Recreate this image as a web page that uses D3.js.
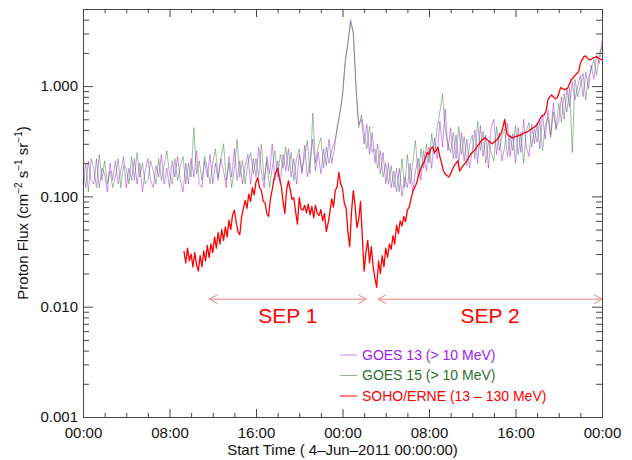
<!DOCTYPE html>
<html>
<head>
<meta charset="utf-8">
<script src="https://cdn.jsdelivr.net/npm/d3@7"></script>
<style>
  body { margin: 0; background: #fff; }
  text { font-family: "Liberation Sans", Arial, Helvetica, sans-serif; }
</style>
</head>
<body>
<div id="chart"></div>
<script>
// ---- data (hours since 4-Jun-2011 00:00, flux in cm-2 s-1 sr-1) ----
var goesStartHour = 0;
var goesStepHours = 0.25;

// GOES 13 (> 10 MeV), one row per hour, 15 min samples
var goes13Flux = [
  0.18, 0.12, 0.21, 0.14,
  0.13, 0.22, 0.12, 0.18,
  0.16, 0.11, 0.2, 0.14,
  0.21, 0.13, 0.17, 0.23,
  0.12, 0.18, 0.14, 0.22,
  0.13, 0.2, 0.11, 0.17,
  0.22, 0.14, 0.12, 0.19,
  0.15, 0.24, 0.13, 0.18,
  0.12, 0.21, 0.15, 0.23,
  0.14, 0.11, 0.2, 0.13,
  0.22, 0.15, 0.26, 0.13,
  0.12, 0.21, 0.15, 0.24,
  0.13, 0.2, 0.14, 0.22,
  0.17, 0.12, 0.23, 0.15,
  0.27, 0.14, 0.21, 0.13,
  0.19, 0.24, 0.13, 0.22,
  0.15, 0.28, 0.17, 0.12,
  0.23, 0.16, 0.3, 0.14,
  0.21, 0.13, 0.24, 0.17,
  0.27, 0.15, 0.22, 0.13,
  0.24, 0.16, 0.29, 0.15,
  0.21, 0.33, 0.17, 0.25,
  0.16, 0.27, 0.19, 0.33,
  0.2, 0.27, 0.42, 0.55,
  0.85, 1.7, 2.5, 4.0,
  3.1, 0.95, 0.45, 0.5,
  0.3, 0.45, 0.24, 0.38,
  0.2, 0.3, 0.16, 0.25,
  0.13, 0.2, 0.12, 0.17,
  0.11, 0.18, 0.1, 0.15,
  0.12, 0.2, 0.11, 0.17,
  0.22, 0.14, 0.26, 0.17,
  0.28, 0.18, 0.34, 0.22,
  0.48, 0.28, 0.62, 0.26,
  0.42, 0.22, 0.36, 0.2,
  0.38, 0.21, 0.33, 0.18,
  0.26, 0.4, 0.2, 0.44,
  0.23, 0.36, 0.18, 0.42,
  0.5, 0.24, 0.38, 0.21,
  0.28, 0.46, 0.23, 0.37,
  0.2, 0.42, 0.25, 0.5,
  0.28, 0.23, 0.45, 0.3,
  0.46, 0.27, 0.55, 0.33,
  0.6, 0.36, 0.7, 0.42,
  0.48, 0.8, 0.5, 0.95,
  0.65, 1.1, 0.75, 1.0,
  1.25, 0.8, 1.35, 0.95,
  1.55, 1.15, 1.9, 1.6,
  2.6
];

// GOES 15 (> 10 MeV)
var goes15Flux = [
  0.13, 0.2, 0.11, 0.22,
  0.18, 0.12, 0.24, 0.14,
  0.21, 0.13, 0.17, 0.12,
  0.15, 0.22, 0.12, 0.19,
  0.18, 0.13, 0.23, 0.14,
  0.25, 0.15, 0.2, 0.13,
  0.14, 0.21, 0.17, 0.13,
  0.22, 0.14, 0.19, 0.26,
  0.16, 0.13, 0.22, 0.14,
  0.19, 0.23, 0.13, 0.2,
  0.15, 0.42, 0.16, 0.21,
  0.14, 0.23, 0.18, 0.13,
  0.2, 0.27, 0.15, 0.22,
  0.3, 0.14, 0.2, 0.12,
  0.18, 0.33, 0.15, 0.21,
  0.13, 0.2, 0.25, 0.16,
  0.22, 0.15, 0.3, 0.14,
  0.21, 0.12, 0.18, 0.26,
  0.15, 0.24, 0.18, 0.28,
  0.17, 0.25, 0.14, 0.22,
  0.27, 0.17, 0.23, 0.32,
  0.16, 0.57, 0.2, 0.28,
  0.34, 0.18, 0.28, 0.2,
  0.26, 0.31, 0.4, 0.58,
  0.8, 1.6, 2.4, 3.8,
  3.0, 1.0, 0.42, 0.55,
  0.38, 0.27, 0.43, 0.25,
  0.27, 0.18, 0.26, 0.15,
  0.2, 0.13, 0.19, 0.12,
  0.18, 0.11, 0.22, 0.12,
  0.24, 0.13, 0.2, 0.32,
  0.15, 0.27, 0.18, 0.3,
  0.2, 0.37, 0.24, 0.42,
  0.58, 0.85, 0.4, 0.3,
  0.25, 0.38, 0.22, 0.43,
  0.24, 0.35, 0.19, 0.29,
  0.36, 0.22, 0.48, 0.26,
  0.39, 0.2, 0.32, 0.25,
  0.21, 0.43, 0.26, 0.35,
  0.41, 0.23, 0.36, 0.26,
  0.44, 0.24, 0.38, 0.2,
  0.39, 0.47, 0.28, 0.41,
  0.31, 0.48, 0.26, 0.43,
  0.52, 0.34, 0.58, 0.4,
  0.7, 0.47, 0.85, 0.58,
  0.95, 0.25, 1.15, 0.8,
  1.0, 1.3, 0.75, 1.2,
  1.4, 1.75, 1.25, 1.95,
  2.3
];

// SOHO/ERNE (13 - 130 MeV), 10 min samples from 09:20
var erneStartHour = 9 + 20 / 60;
var erneStepHours = 1 / 6;
var erneFlux = [
  0.032, 0.025, 0.034, 0.026,
  0.03, 0.023, 0.031, 0.024, 0.021, 0.029,
  0.023, 0.032, 0.026, 0.036, 0.028, 0.037,
  0.031, 0.043, 0.034, 0.047, 0.037, 0.05,
  0.04, 0.053, 0.043, 0.061, 0.05, 0.068,
  0.075, 0.058, 0.048, 0.045, 0.065, 0.078,
  0.092, 0.078, 0.105, 0.09, 0.12, 0.103,
  0.135, 0.148, 0.12, 0.113, 0.09, 0.088,
  0.07, 0.066, 0.095, 0.115, 0.145, 0.165,
  0.18, 0.145, 0.125, 0.09, 0.07, 0.115,
  0.138, 0.115, 0.094, 0.097, 0.072, 0.056,
  0.098, 0.077, 0.075, 0.083, 0.071, 0.085,
  0.068, 0.081, 0.064, 0.083, 0.07, 0.067,
  0.076, 0.06, 0.07, 0.048, 0.057, 0.072,
  0.095, 0.08, 0.113, 0.122, 0.165, 0.13,
  0.118, 0.087, 0.078, 0.048, 0.035, 0.072,
  0.113, 0.082, 0.052, 0.062, 0.09, 0.043,
  0.021, 0.031, 0.04, 0.025, 0.035, 0.023,
  0.018, 0.015, 0.026, 0.02, 0.029, 0.023,
  0.034, 0.028, 0.037, 0.033, 0.044, 0.037,
  0.055, 0.046, 0.06, 0.054, 0.066, 0.059,
  0.075, 0.08, 0.095, 0.11, 0.12, 0.13,
  0.15, 0.17, 0.19, 0.2, 0.22, 0.25,
  0.24, 0.27, 0.28, 0.25, 0.26, 0.28,
  0.23, 0.2, 0.17, 0.16, 0.155, 0.15,
  0.16, 0.175, 0.19, 0.2, 0.21, 0.17,
  0.18, 0.19, 0.2, 0.21, 0.225, 0.24,
  0.25, 0.26, 0.27, 0.29, 0.3, 0.32,
  0.33, 0.34, 0.33, 0.32, 0.31, 0.3,
  0.31, 0.32, 0.33, 0.35, 0.37, 0.42,
  0.5, 0.38, 0.36, 0.35, 0.34, 0.34,
  0.35, 0.35, 0.36, 0.36, 0.37, 0.38,
  0.38, 0.39, 0.4, 0.41, 0.42, 0.43,
  0.45, 0.48, 0.52, 0.54, 0.55, 0.6,
  0.75, 0.8, 0.83, 0.8, 0.77, 0.78,
  0.85, 0.97, 0.95, 0.93, 0.94, 0.96,
  1.05, 1.15, 1.19, 1.25, 1.3, 1.35,
  1.6, 1.73, 1.85, 1.88, 1.78, 1.73,
  1.75, 1.8, 1.82, 1.85, 1.8, 1.76,
  1.73
];

// tick labels
var xMajorTicks = [0, 8, 16, 24, 32, 40, 48];
var xTickLabels = ["00:00", "08:00", "16:00", "00:00", "08:00", "16:00", "00:00"];
var yMajorTicks = [0.001, 0.01, 0.1, 1];

// SEP event intervals (hours)
var sepNames = ["SEP 1", "SEP 2"];
var sepStart = [11.7, 27.3];
var sepEnd = [26.2, 48];

// legend
var seriesNames = ["GOES 13 (> 10 MeV)", "GOES 15 (> 10 MeV)", "SOHO/ERNE (13 \u2013 130 MeV)"];
var seriesColors = ["#a020f0", "#2f6f2f", "#ff0000"];

// ---- layout ----
var svgWidth = 632;
var svgHeight = 460;
var margin = { top: 9, right: 30, bottom: 43, left: 83 };
var chartWidth = svgWidth - margin.left - margin.right;
var chartHeight = svgHeight - margin.top - margin.bottom;
var axisColor = "#444";

var svg = d3.select("#chart")
  .append("svg")
  .attr("width", svgWidth)
  .attr("height", svgHeight);

var chartGroup = svg.append("g")
  .attr("transform", `translate(${margin.left}, ${margin.top})`);

var xScale = d3.scaleLinear().domain([0, 48]).range([0, chartWidth]);
var yScale = d3.scaleLog().domain([0.001, 5]).range([chartHeight, 0]);

// minor tick positions
var xMinorTicks = d3.range(0, 49, 2).filter(d => d % 8 !== 0);
var yMinorTicks = [];
[0.001, 0.01, 0.1, 1].forEach(function(dec) {
  for (var k = 2; k <= 9; k++) {
    if (dec * k <= 5) yMinorTicks.push(dec * k);
  }
});

function drawAxis(axis, transform) {
  var g = chartGroup.append("g")
    .attr("transform", transform)
    .call(axis);
  g.select(".domain").attr("stroke", axisColor);
  g.selectAll(".tick line").attr("stroke", axisColor);
  g.selectAll(".tick text")
    .attr("font-size", 15)
    .attr("fill", "#111")
    .attr("font-family", "Liberation Sans, Arial, sans-serif");
  return g;
}

// bottom
drawAxis(d3.axisBottom(xScale).tickValues(xMajorTicks).tickSize(-8).tickSizeOuter(0)
  .tickPadding(10).tickFormat((d, i) => xTickLabels[i]), `translate(0, ${chartHeight})`);
drawAxis(d3.axisBottom(xScale).tickValues(xMinorTicks).tickSize(-4).tickSizeOuter(0)
  .tickFormat(""), `translate(0, ${chartHeight})`);
// top
drawAxis(d3.axisTop(xScale).tickValues(xMajorTicks).tickSize(-8).tickSizeOuter(0)
  .tickFormat(""), "translate(0, 0)");
drawAxis(d3.axisTop(xScale).tickValues(xMinorTicks).tickSize(-4).tickSizeOuter(0)
  .tickFormat(""), "translate(0, 0)");
// left
drawAxis(d3.axisLeft(yScale).tickValues(yMajorTicks).tickSize(-10).tickSizeOuter(0)
  .tickPadding(5).tickFormat(d3.format(".3f")), "translate(0, 0)");
drawAxis(d3.axisLeft(yScale).tickValues(yMinorTicks).tickSize(-6).tickSizeOuter(0)
  .tickFormat(""), "translate(0, 0)");
// right
drawAxis(d3.axisRight(yScale).tickValues(yMajorTicks).tickSize(-10).tickSizeOuter(0)
  .tickFormat(""), `translate(${chartWidth}, 0)`);
drawAxis(d3.axisRight(yScale).tickValues(yMinorTicks).tickSize(-6).tickSizeOuter(0)
  .tickFormat(""), `translate(${chartWidth}, 0)`);

// ---- series ----
function toPoints(values, start, step) {
  return values.map((v, i) => ({ t: start + i * step, v: v }));
}

var line = d3.line()
  .x(d => xScale(d.t))
  .y(d => yScale(d.v));

var plotGroup = chartGroup.append("g");

plotGroup.append("path")
  .datum(toPoints(goes13Flux, goesStartHour, goesStepHours))
  .attr("fill", "none")
  .attr("stroke", seriesColors[0])
  .attr("stroke-opacity", 0.5)
  .attr("stroke-width", 1)
  .attr("d", line);

plotGroup.append("path")
  .datum(toPoints(goes15Flux, goesStartHour, goesStepHours))
  .attr("fill", "none")
  .attr("stroke", seriesColors[1])
  .attr("stroke-opacity", 0.45)
  .attr("stroke-width", 1)
  .attr("d", line);

plotGroup.append("path")
  .datum(toPoints(erneFlux, erneStartHour, erneStepHours))
  .attr("fill", "none")
  .attr("stroke", seriesColors[2])
  .attr("stroke-width", 1.3)
  .attr("stroke-linejoin", "round")
  .attr("d", line);

// ---- SEP arrows ----
var arrowY = yScale(0.0117);
var arrowColor = "#f28080";
sepNames.forEach(function(name, i) {
  var x0 = xScale(sepStart[i]);
  var x1 = xScale(sepEnd[i]);
  var g = chartGroup.append("g")
    .attr("fill", "none")
    .attr("stroke", arrowColor)
    .attr("stroke-width", 1);
  g.append("line").attr("x1", x0).attr("x2", x1).attr("y1", arrowY).attr("y2", arrowY);
  g.append("path").attr("d", `M${x0 + 8},${arrowY - 4.5}L${x0},${arrowY}L${x0 + 8},${arrowY + 4.5}`);
  g.append("path").attr("d", `M${x1 - 8},${arrowY - 4.5}L${x1},${arrowY}L${x1 - 8},${arrowY + 4.5}`);
  chartGroup.append("text")
    .attr("x", (x0 + x1) / 2)
    .attr("y", arrowY + 24)
    .attr("text-anchor", "middle")
    .attr("font-size", 21)
    .attr("fill", "#ff0000")
    .text(name);
});

// ---- legend ----
var legendGroup = svg.append("g").attr("transform", "translate(340, 355)");
seriesNames.forEach(function(name, i) {
  var ly = i * 20.5;
  legendGroup.append("line")
    .attr("x1", 0).attr("x2", 17)
    .attr("y1", ly).attr("y2", ly)
    .attr("stroke", seriesColors[i])
    .attr("stroke-opacity", i < 2 ? 0.55 : 1)
    .attr("stroke-width", 1);
  legendGroup.append("text")
    .attr("x", 22)
    .attr("y", ly)
    .attr("dy", "0.35em")
    .attr("font-size", 14)
    .attr("fill", seriesColors[i])
    .text(name);
});

// ---- axis labels ----
svg.append("text")
  .attr("x", margin.left + chartWidth / 2)
  .attr("y", 455)
  .attr("text-anchor", "middle")
  .attr("font-size", 15)
  .attr("fill", "#111")
  .text("Start Time ( 4\u2013Jun\u20132011 00:00:00)");

var yLabel = svg.append("text")
  .attr("transform", `translate(28, ${margin.top + chartHeight / 2}) rotate(-90)`)
  .attr("text-anchor", "middle")
  .attr("font-size", 15)
  .attr("fill", "#111");
yLabel.append("tspan").text("Proton Flux (cm");
yLabel.append("tspan").attr("font-size", 10).attr("dy", -6).text("\u22122");
yLabel.append("tspan").attr("dy", 6).text(" s");
yLabel.append("tspan").attr("font-size", 10).attr("dy", -6).text("\u22121");
yLabel.append("tspan").attr("dy", 6).text(" sr");
yLabel.append("tspan").attr("font-size", 10).attr("dy", -6).text("\u22121");
yLabel.append("tspan").attr("dy", 6).text(")");
</script>
</body>
</html>
